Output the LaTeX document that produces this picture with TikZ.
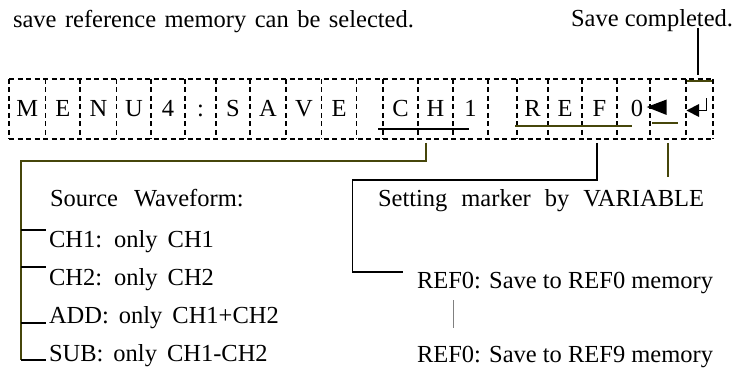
\documentclass[tikz,border=0pt]{standalone}
\usepackage{fontspec}
\setmainfont{Liberation Serif}
\definecolor{oliv}{RGB}{70,70,10}
\begin{document}
\begin{tikzpicture}[x=1pt,y=-1pt, font=\fontsize{24.5}{28}\selectfont,
  cell/.style={minimum height=60pt,
    inner sep=0pt, outer sep=0pt, text height=16pt, text depth=0pt, anchor=west},
  dsh/.style={dash pattern=on 5pt off 3.5pt, line width=1.4pt},
  lbl/.style={anchor=base west, inner sep=0pt, outer sep=0pt},
  ln/.style={line width=1.2pt, draw=black},
  ol/.style={line width=1.2pt, draw=oliv}]
\useasboundingbox (0,0) rectangle (735,371);

% texts on top
\node[lbl] (title) at (13,28) {\spaceskip=8.5pt save reference memory can be selected.};
\node[lbl, anchor=base east] (savecomp) at (733,27) {Save completed.};

% display cells
\node[cell, minimum width=36.7pt] (c1) at (9,109) {M};
\node[cell, minimum width=34.3pt] (c2) at (45.7,109) {E};
\node[cell, minimum width=36.7pt] (c3) at (80,109) {N};
\node[cell, minimum width=34.3pt] (c4) at (116.7,109) {U};
\node[cell, minimum width=34pt] (c5) at (151,109) {4};
\node[cell, minimum width=31pt] (c6) at (185,109) {:};
\node[cell, minimum width=34pt] (c7) at (216,109) {S};
\node[cell, minimum width=36pt] (c8) at (250,109) {A};
\node[cell, minimum width=35.7pt] (c9) at (286,109) {V};
\node[cell, minimum width=35pt] (c10) at (321.7,109) {E};
\node[cell, minimum width=26.3pt] (c11) at (356.7,109) {};
\node[cell, minimum width=35pt] (c12) at (383,109) {C};
\node[cell, minimum width=35pt] (c13) at (418,109) {H};
\node[cell, minimum width=35pt] (c14) at (453,109) {1};
\node[cell, minimum width=29pt] (c15) at (488,109) {};
\node[cell, minimum width=31pt] (c16) at (517,109) {R};
\node[cell, minimum width=34pt] (c17) at (548,109) {E};
\node[cell, minimum width=35pt] (c18) at (582,109) {F};
\node[cell, minimum width=33pt] (c19) at (617,109) {};
\node[cell, minimum width=36pt] (c20) at (650,109) {};
\node[cell, minimum width=27pt] (c21) at (686,109) {};
\node[lbl, anchor=base] (zero) at (637,117) {0};

% dashed cell borders
\draw[dsh] (c1.north west) -- (c21.north east);
\draw[dsh] (c1.south west) -- (c21.south east);
\foreach \i in {1,...,21} { \draw[dsh] (c\i.north west) -- (c\i.south west); }
\draw[dsh] (c21.north east) -- (c21.south east);

% left triangle glyph
\fill (646.7,107) -- (666.7,99.5) -- (666.7,115) -- cycle;
% return glyph
\draw[line width=1.8pt] (706.5,98.5) -- (706.5,110.5) -- (696,110.5);
\fill (686.5,110.5) -- (699,104) -- (699,117) -- cycle;

% underlines
\coordinate (u1a) at (378,129); \coordinate (u1b) at (469,129);
\draw[ln] (u1a) -- (u1b);
\coordinate (u2a) at (515,126); \coordinate (u2b) at (632,126);
\draw[ol] (u2a) -- (u2b);
\coordinate (u3a) at (652,123); \coordinate (u3b) at (678,123);
\draw[ol] (u3a) -- (u3b);
\coordinate (u4a) at (687,81); \coordinate (u4b) at (712,81);
\draw[ol] (u4a) -- (u4b);

% lower texts
\node[lbl] (src) at (50,207) {Source\hspace{16pt}Waveform:};
\node[lbl] (ch1t) at (49,247) {\spaceskip=10pt CH1: only CH1};
\node[lbl] (ch2t) at (49,285) {\spaceskip=10pt CH2: only CH2};
\node[lbl] (addt) at (49,323) {\spaceskip=10pt ADD: only CH1+CH2};
\node[lbl] (subt) at (49,361) {\spaceskip=10pt SUB: only CH1-CH2};
\node[lbl] (sett) at (378,207) {\spaceskip=14pt Setting marker by VARIABLE};
\node[lbl] (ref0) at (417,288) {REF0: Save to REF0 memory};
\node[lbl] (ref9) at (417,362) {REF0: Save to REF9 memory};

% connectors
\coordinate (chtop) at (426,143);
\coordinate (lx) at (21,161);
\draw[ol] (chtop) -- (426,161) -- (lx) -- (21,360);
\draw[ln] (21,230) -- (46,230);
\draw[ln] (21,267) -- (46,267);
\draw[ln] (21,323) -- (46,323);
\draw[ln] (21,360) -- (46,360);

\coordinate (reftop) at (597,143);
\coordinate (refend) at (403,272);
\draw[ln] (reftop) -- (597,180) -- (352.7,180) -- (352.7,272) -- (refend);

\coordinate (tritop) at (668,143);
\draw[ol] (tritop) -- (668,177);

\coordinate (rettop) at (698,28);
\draw[ln] (rettop) -- (698,75);

\draw[gray, line width=1pt] (453,300) -- (453,328);
\end{tikzpicture}
\end{document}
